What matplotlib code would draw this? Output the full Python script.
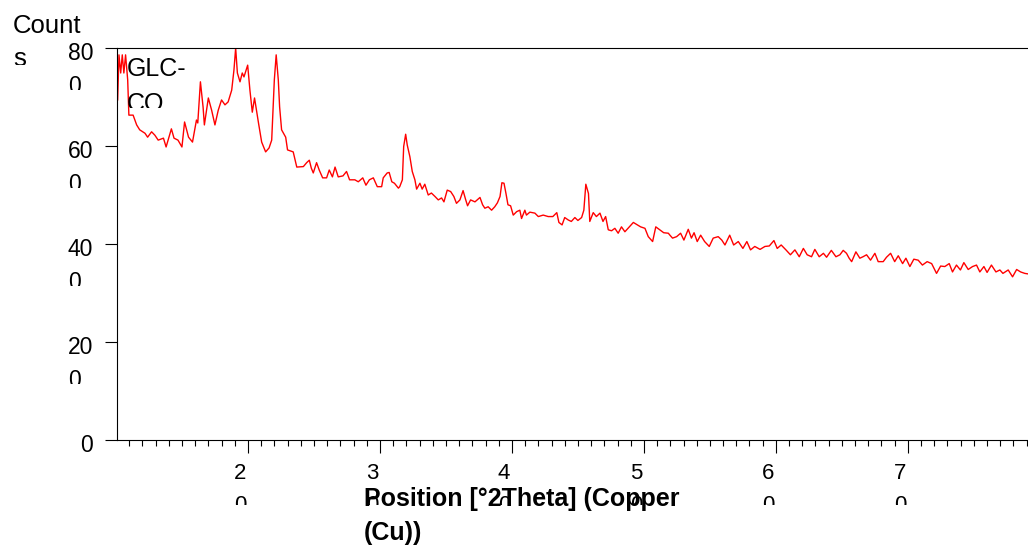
import matplotlib
matplotlib.use('Agg')
import matplotlib.pyplot as plt
from matplotlib.transforms import Bbox, ScaledTranslation
from matplotlib.ticker import MultipleLocator

plt.rcParams['font.family'] = ['Liberation Sans', 'DejaVu Sans']

# XRD scan: position (deg 2theta) and counts
two_theta = [10.08, 10.13, 10.23, 10.36, 10.48, 10.6, 10.73, 10.89, 10.98, 11.3, 11.57, 11.8, 12.2, 12.4,
             12.7, 12.95, 13.2, 13.6, 13.8, 14.2, 14.4, 14.7, 15.0, 15.2, 15.5, 15.8, 16.1, 16.2,
             16.4, 16.6, 16.7, 17.0, 17.25, 17.5, 17.75, 18.0, 18.26, 18.5, 18.77, 18.94, 19.07,
             19.2, 19.4, 19.57, 19.7, 19.98, 20.15, 20.33, 20.5, 20.8, 21.04, 21.34, 21.6, 21.8,
             22.0, 22.14, 22.3, 22.4, 22.55, 22.86, 23.0, 23.43, 23.7,
             24.2, 24.45, 24.65, 24.8, 24.95, 25.2, 25.4, 25.66, 25.96, 26.16, 26.4, 26.6, 26.84,
             27.2, 27.47, 27.7, 28.1, 28.36, 28.7, 28.94, 29.2, 29.5, 29.8, 30.13, 30.25, 30.55,
             30.7, 30.9, 31.1, 31.4, 31.5, 31.7, 31.8, 31.95, 32.07, 32.27, 32.45, 32.65, 32.78,
             33.03, 33.2, 33.4, 33.66, 33.9, 34.17, 34.42, 34.67, 34.85, 35.1, 35.36, 35.6, 35.8,
             36.06, 36.3, 36.5, 36.64, 36.87, 37.2, 37.58,
             37.78, 37.95, 38.2, 38.46, 38.7, 38.9, 39.1, 39.24, 39.4, 39.55, 39.7, 39.9, 40.1,
             40.36, 40.6, 40.73, 40.98, 41.1, 41.36, 41.74, 42.0, 42.37, 42.75, 43.1, 43.4, 43.56,
             43.8, 44.0, 44.27, 44.5, 44.77, 45.0, 45.28, 45.45, 45.6, 45.8, 45.9, 46.16, 46.4,
             46.67, 46.9, 47.1, 47.3, 47.55, 47.8, 48.05, 48.3, 48.56, 48.8, 49.2, 49.5, 49.75,
             50.08, 50.33, 50.66, 50.9, 51.2, 51.5, 51.85,
             51.97, 52.17, 52.48, 52.78, 53.03, 53.36, 53.6, 53.8, 54.04, 54.3, 54.6, 54.95, 55.25,
             55.63, 55.9, 56.14, 56.5, 56.8, 57.15, 57.5, 57.8, 58.08, 58.4, 58.8, 59.17, 59.5,
             59.85, 60.1, 60.4, 60.76, 61.1, 61.44, 61.77, 62.08, 62.37, 62.7, 62.95, 63.28, 63.6,
             63.84, 64.2, 64.55, 64.85, 65.1, 65.35, 65.55,
             65.74, 66.06, 66.36, 66.6, 66.87, 67.17, 67.5, 67.75, 68.13, 68.38, 68.69, 69.0, 69.27,
             69.6, 69.85, 70.15, 70.45, 70.78, 71.1, 71.46, 71.8, 72.17, 72.48, 72.8, 73.13, 73.38,
             73.68, 73.98, 74.24, 74.57, 74.9, 75.2, 75.45, 75.76, 76.0, 76.33, 76.67, 76.97, 77.2,
             77.6, 77.93, 78.24, 78.54, 78.86, 79.1]
counts = [690, 694, 786, 749, 786, 749, 786, 735, 663, 663, 643, 633, 626, 618,
          629, 622, 612, 616, 598, 635, 616, 612, 598, 649, 618, 608, 653, 647,
          731, 680, 643, 698, 673, 643, 673, 694, 684, 690, 714, 755, 800,
          749, 731, 749, 741, 765, 714, 669, 698, 647, 608, 588, 596, 612,
          735, 786, 735, 680, 633, 618, 592, 588, 557,
          558, 566, 571, 555, 545, 566, 551, 535, 535, 551, 537, 557, 537,
          539, 548, 531, 531, 527, 535, 520, 531, 535, 517, 517, 535, 545,
          546, 527, 524, 514, 517, 531, 599, 624, 602, 578, 548, 531, 512,
          524, 512, 522, 500, 504, 497, 490, 494, 486, 510, 507, 497, 483,
          490, 509, 490, 478, 490, 486, 495,
          480, 473, 476, 469, 476, 484, 497, 525, 524, 503, 480, 478, 459,
          466, 469, 452, 469, 459, 465, 463, 456, 459, 456, 456, 464, 444,
          439, 454, 449, 446, 454, 448, 454, 469, 522, 503, 446, 464, 456,
          463, 446, 456, 429, 427, 432, 422, 435, 425, 432, 444, 439, 435,
          432, 415, 405, 435, 429, 423, 422,
          418, 412, 415, 422, 408, 430, 412, 423, 405, 418, 405, 395, 412,
          415, 408, 398, 418, 398, 405, 391, 405, 388, 395, 389, 395, 396,
          407, 391, 398, 388, 378, 388, 374, 391, 378, 374, 389, 374, 381,
          373, 387, 374, 378, 387, 381, 371,
          364, 384, 371, 374, 378, 367, 381, 364, 364, 373, 381, 364, 376,
          360, 371, 354, 369, 367, 357, 364, 360, 340, 355, 354, 360, 343,
          357, 347, 362, 348, 354, 357, 343, 354, 342, 357, 343, 347, 340,
          347, 333, 348, 343, 340, 339]

# tick values and the (wrapped) labels as they appear
x_ticks = [20, 30, 40, 50, 60, 70]
x_labels = ['2\n0', '3\n0', '4\n0', '5\n0', '6\n0', '7\n0']
y_ticks = [0, 200, 400, 600, 800]
y_labels = ['0', '20\n0', '40\n0', '60\n0', '80\n0']

W, H = 1028, 545
fig = plt.figure(figsize=(W / 100, H / 100), dpi=100)
ax = fig.add_axes([117 / W, 1 - 440 / H, 1 - 117 / W, (440 - 48) / H])

ax.plot(two_theta, counts, color='#ff0000', lw=1.0)
ax.set_xlim(10.08, 79.1)
ax.set_ylim(0, 800)

ax.spines['right'].set_visible(False)
for s in ['left', 'top', 'bottom']:
    ax.spines[s].set_linewidth(0.8)

ax.set_xticks(x_ticks)
ax.set_xticklabels(x_labels, fontsize=16, linespacing=1.72)
ax.xaxis.set_minor_locator(MultipleLocator(1))
ax.set_yticks(y_ticks)
ax.set_yticklabels(y_labels, fontsize=16.5, linespacing=1.53)
ax.tick_params(axis='x', which='major', direction='out', length=9.5, width=0.8, pad=7)
ax.tick_params(axis='x', which='minor', direction='out', length=4, width=0.8)
ax.tick_params(axis='y', which='major', direction='out', length=8.6, width=0.8, pad=8.5)

fig.canvas.draw()


def clip_below(txt, y_top):
    # hide what falls below y_top (pixels from the top of the picture)
    txt.set_clip_box(Bbox.from_extents(0, H - y_top, W, H))
    txt.set_clip_on(True)


for lab in ax.get_xticklabels():
    lab.set_transform(lab.get_transform() + ScaledTranslation(-8 / 100, 0, fig.dpi_scale_trans))
    clip_below(lab, 505)

for v, lab in zip(y_ticks, ax.get_yticklabels()):
    lab.set_verticalalignment('top')
    lab.set_multialignment('left')
    lab.set_transform(lab.get_transform() + ScaledTranslation(0, 6 / 100, fig.dpi_scale_trans))
    ypix = H - ax.transData.transform((20, v))[1]
    clip_below(lab, ypix + 42)

t = fig.text(13 / W, 1 - 14 / H, 'Count\ns', fontsize=18.5, ha='left', va='top', linespacing=1.49)
clip_below(t, 65)

t = fig.text(127 / W, 1 - 57 / H, 'GLC-\nCO', fontsize=18, ha='left', va='top', linespacing=1.57)
clip_below(t, 108)

fig.text(364 / W, 1 - 487 / H, 'Position [°2Theta] (Copper\n(Cu))', fontsize=18, fontweight='bold',
         ha='left', va='top', linespacing=1.55)

fig.savefig('out.png', dpi=100)
